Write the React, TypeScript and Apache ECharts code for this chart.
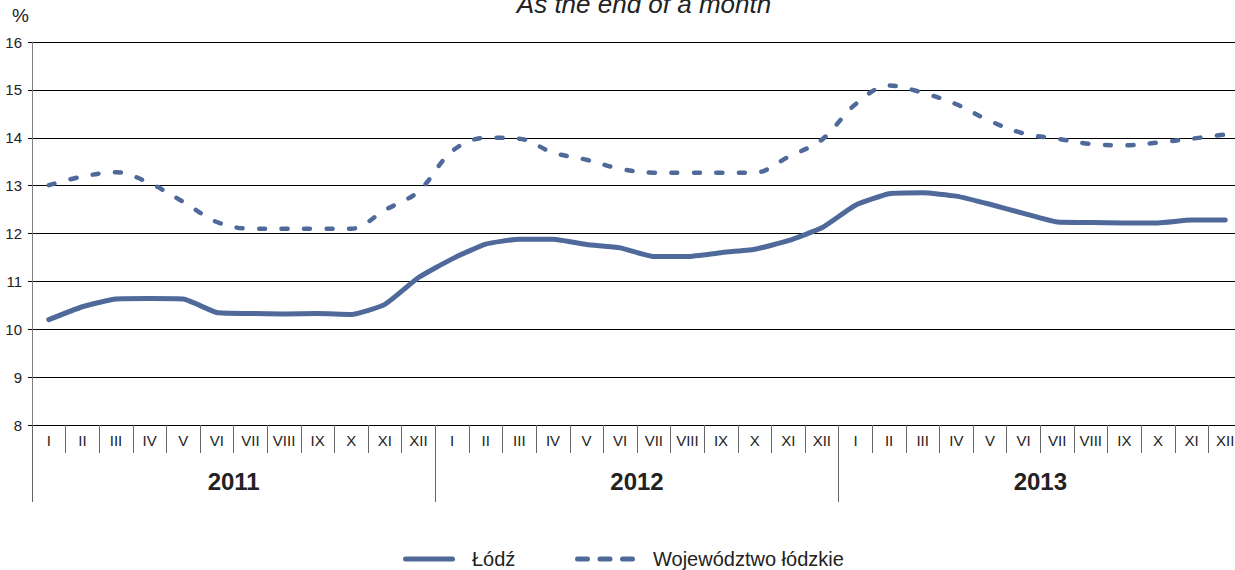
import React, { useEffect, useRef } from "react";
import * as echarts from "echarts";

const months = ["I", "II", "III", "IV", "V", "VI", "VII", "VIII", "IX", "X", "XI", "XII"];
const years = ["2011", "2012", "2013"];
const yTicks = [8, 16, 1]; // min, max, interval

const lodz2011 = [10.20, 10.47, 10.63, 10.64, 10.63, 10.35, 10.33, 10.32, 10.33, 10.31, 10.52, 11.08];
const lodz2012 = [11.47, 11.78, 11.88, 11.88, 11.77, 11.70, 11.52, 11.52, 11.60, 11.67, 11.85, 12.12];
const lodz2013 = [12.59, 12.83, 12.85, 12.78, 12.61, 12.42, 12.24, 12.23, 12.22, 12.22, 12.28, 12.28];

const woj2011 = [13.01, 13.19, 13.28, 13.05, 12.66, 12.24, 12.10, 12.10, 12.10, 12.10, 12.49, 12.88];
const woj2012 = [13.72, 14.00, 13.98, 13.69, 13.54, 13.35, 13.27, 13.27, 13.27, 13.27, 13.60, 13.96];
const woj2013 = [14.70, 15.09, 14.94, 14.70, 14.35, 14.09, 13.98, 13.87, 13.84, 13.90, 13.98, 14.07];

const seriesNames = ["Łódź", "Województwo łódzkie"];
const titleText = "As the end of a month";
const unitText = "%";

export default function App() {
  const ref = useRef<HTMLDivElement>(null);
  useEffect(() => {
    if (!ref.current) return;
    document.body.style.overflow = "hidden";
    const chart = echarts.init(ref.current, undefined, { renderer: "svg" });
    const categories: string[] = [];
    years.forEach((y) => months.forEach((m) => categories.push(m + " " + y)));
    const lodz = [...lodz2011, ...lodz2012, ...lodz2013];
    const woj = [...woj2011, ...woj2012, ...woj2013];
    const color = "#4F6A9A";
    const font = "'Liberation Sans', Arial, sans-serif";
    const legendY = 559;
    chart.setOption({
      animation: false,
      backgroundColor: "#ffffff",
      title: {
        text: titleText,
        left: 644,
        textAlign: "center",
        top: -9,
        padding: 0,
        textStyle: {
          fontFamily: font,
          fontStyle: "italic",
          fontWeight: "normal",
          fontSize: 26,
          color: "#222",
        },
      },
      graphic: [
        {
          type: "text",
          left: 12,
          top: 6,
          style: { text: unitText, fontFamily: font, fontSize: 19, fill: "#222" },
        },
        // legend (drawn manually to match the reference keys)
        {
          type: "line",
          shape: { x1: 405.5, y1: legendY, x2: 452.5, y2: legendY },
          style: { stroke: color, lineWidth: 5, lineCap: "round" },
        },
        {
          type: "text",
          x: 472,
          y: legendY,
          style: {
            text: seriesNames[0],
            fontFamily: font,
            fontSize: 20,
            fill: "#222",
            verticalAlign: "middle",
            align: "left",
          },
        },
        {
          type: "line",
          shape: { x1: 577.5, y1: legendY, x2: 632.5, y2: legendY },
          style: { stroke: color, lineWidth: 5, lineCap: "round", lineDash: [10, 12.5] },
        },
        {
          type: "text",
          x: 653,
          y: legendY,
          style: {
            text: seriesNames[1],
            fontFamily: font,
            fontSize: 20,
            fill: "#222",
            verticalAlign: "middle",
            align: "left",
          },
        },
      ],
      grid: { left: 32, right: 0, top: 42, bottom: 145 },
      xAxis: [
        {
          type: "category",
          data: categories,
          boundaryGap: true,
          position: "bottom",
          axisLine: { show: true, lineStyle: { color: "#000", width: 1 } },
          axisTick: {
            show: true,
            interval: 0,
            length: 28,
            lineStyle: { color: "#666", width: 1 },
          },
          axisLabel: {
            interval: 0,
            margin: 8,
            fontFamily: font,
            fontSize: 15,
            color: "#222",
            formatter: (v: string) => v.split(" ")[0],
          },
          splitLine: { show: false },
        },
        {
          type: "category",
          data: years,
          boundaryGap: true,
          position: "bottom",
          axisLine: { show: false },
          axisTick: {
            show: true,
            interval: 0,
            length: 77,
            lineStyle: { color: "#666", width: 1 },
          },
          axisLabel: {
            interval: 0,
            margin: 44,
            fontFamily: font,
            fontSize: 24,
            fontWeight: "bold",
            color: "#222",
          },
          splitLine: { show: false },
        },
      ],
      yAxis: {
        type: "value",
        min: yTicks[0],
        max: yTicks[1],
        interval: yTicks[2],
        axisLine: { show: true, lineStyle: { color: "#808080", width: 1 } },
        axisTick: { show: true, length: 4, inside: false, lineStyle: { color: "#000" } },
        axisLabel: { margin: 10, fontFamily: font, fontSize: 15, color: "#222" },
        splitLine: { show: true, lineStyle: { color: "#000", width: 1 } },
      },
      series: [
        {
          name: seriesNames[0],
          type: "line",
          xAxisIndex: 0,
          data: lodz,
          symbol: "none",
          smooth: 0.15,
          lineStyle: { color, width: 5, cap: "round", join: "round" },
          itemStyle: { color },
          z: 3,
        },
        {
          name: seriesNames[1],
          type: "line",
          xAxisIndex: 0,
          data: woj,
          symbol: "none",
          smooth: 0.35,
          lineStyle: { color, width: 4.5, type: [6, 16.5], cap: "round", join: "round" },
          itemStyle: { color },
          z: 3,
        },
      ],
    });
    return () => chart.dispose();
  }, []);
  return (
    <div
      ref={ref}
      style={{ position: "fixed", left: 0, top: 0, width: 1242, height: 570 }}
    />
  );
}
